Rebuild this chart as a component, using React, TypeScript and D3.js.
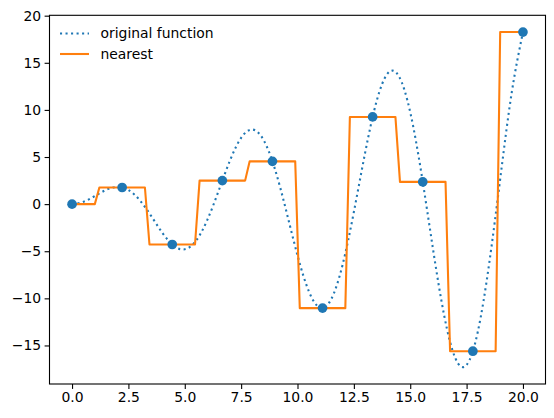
import * as d3 from 'd3';
import { useEffect, useRef } from 'react';

// dense curve (step 0.5)
const curveX = d3.range(0, 20.001, 0.5);
const curveY = [
  0, 0.24, 0.841, 1.496, 1.819, 1.496, 0.423, -1.228, -3.027, -4.399, -4.795,
  -3.88, -1.676, 1.398, 4.599, 7.035, 7.915, 6.787, 3.709, -0.714, -5.44,
  -9.237, -11.0, -10.068, -6.439, -0.829, 5.462, 10.851, 13.868, 13.556, 9.754,
  3.201, -4.607, -11.745, -16.344, -17.07, -13.518, -6.337, 2.848, 11.807, 18.259,
];

// sample points (blue markers)
const sampleX = [0, 2.222, 4.444, 6.667, 8.889, 11.111, 13.333, 15.556, 17.778, 20];
const sampleY = [0, 1.767, -4.286, 2.495, 4.54, -11.037, 9.253, 2.361, -15.609, 18.259];

const xTicks = [0, 2.5, 5, 7.5, 10, 12.5, 15, 17.5, 20];
const yTicks = [-15, -10, -5, 0, 5, 10, 15, 20];

const legendItems = [
  { label: 'original function', color: '#1f77b4', dash: '2.08,3.44' },
  { label: 'nearest', color: '#ff7f0e', dash: null },
];

// the step line was evaluated on a 100 point grid, so jumps span one grid cell
const gridStep = 20 / 99;

const App = () => {
  const ref = useRef<SVGSVGElement>(null);

  useEffect(() => {
    const width = 554;
    const height = 418;
    const margin = { top: 15.3, right: 8.5, bottom: 34, left: 49.5 };
    const font = 'DejaVu Sans, sans-serif';

    const x = d3
      .scaleLinear()
      .domain([-1, 21])
      .range([margin.left, width - margin.right]);

    const y = d3
      .scaleLinear()
      .domain([-19.09, 20.04])
      .range([height - margin.bottom, margin.top]);

    const svg = d3.select(ref.current);
    svg.selectAll('*').remove();

    svg.append('rect').attr('width', width).attr('height', height).attr('fill', 'white');

    const plot = svg.append('g');

    const line = d3
      .line<number>()
      .x((_, i) => x(curveX[i]))
      .y((d) => y(d))
      .curve(d3.curveNatural);

    plot
      .append('path')
      .datum(curveY)
      .attr('fill', 'none')
      .attr('stroke', '#1f77b4')
      .attr('stroke-width', 2.08)
      .attr('stroke-dasharray', '2.08,3.44')
      .attr('d', line);

    // each sample holds its value from the grid point after the previous midpoint
    // to the grid point before the next one
    const n = sampleX.length;
    const steps: [number, number][] = [];
    sampleY.forEach((v, i) => {
      const start =
        i === 0 ? sampleX[0] : Math.ceil((sampleX[i - 1] + sampleX[i]) / 2 / gridStep) * gridStep;
      const end =
        i === n - 1
          ? sampleX[n - 1]
          : Math.floor((sampleX[i] + sampleX[i + 1]) / 2 / gridStep) * gridStep;
      steps.push([start, v], [end, v]);
    });

    plot
      .append('path')
      .datum(steps)
      .attr('fill', 'none')
      .attr('stroke', '#ff7f0e')
      .attr('stroke-width', 2.08)
      .attr('stroke-linejoin', 'round')
      .attr(
        'd',
        d3
          .line<[number, number]>()
          .x((d) => x(d[0]))
          .y((d) => y(d[1])),
      );

    plot
      .selectAll('circle')
      .data(sampleY)
      .join('circle')
      .attr('cx', (_, i) => x(sampleX[i]))
      .attr('cy', (d) => y(d))
      .attr('r', 4.85)
      .attr('fill', '#1f77b4');

    const xAxis = (g) =>
      g
        .attr('transform', `translate(0,${height - margin.bottom})`)
        .call(
          d3
            .axisBottom(x)
            .tickValues(xTicks)
            .tickFormat(d3.format('.1f'))
            .tickSizeOuter(0)
            .tickSize(4.9)
            .tickPadding(3.5),
        )
        .call((g) => g.select('.domain').remove());

    const yAxis = (g) =>
      g
        .attr('transform', `translate(${margin.left},0)`)
        .call(d3.axisLeft(y).tickValues(yTicks).tickSizeOuter(0).tickSize(4.9).tickPadding(3.5))
        .call((g) => g.select('.domain').remove());

    for (const ax of [svg.append('g').call(xAxis), svg.append('g').call(yAxis)]) {
      ax.selectAll('text').attr('font-family', font).attr('font-size', 13.9).attr('fill', 'black');
      ax.selectAll('line').attr('stroke', 'black').attr('stroke-width', 1.1);
    }

    svg
      .append('rect')
      .attr('x', margin.left)
      .attr('y', margin.top)
      .attr('width', width - margin.left - margin.right)
      .attr('height', height - margin.top - margin.bottom)
      .attr('fill', 'none')
      .attr('stroke', 'black')
      .attr('stroke-width', 1.1);

    const legend = svg
      .append('g')
      .selectAll('g')
      .data(legendItems)
      .join('g')
      .attr('transform', (_, i) => `translate(60,${33.5 + i * 20.5})`);

    legend
      .append('line')
      .attr('x1', 0)
      .attr('x2', 29)
      .attr('stroke', (d) => d.color)
      .attr('stroke-width', 2.08)
      .attr('stroke-dasharray', (d) => d.dash);

    legend
      .append('text')
      .attr('x', 40.5)
      .attr('dy', '0.35em')
      .attr('font-family', font)
      .attr('font-size', 13.9)
      .text((d) => d.label);
  }, []);

  return (
    <svg
      ref={ref}
      width={554}
      height={418}
      style={{ position: 'absolute', left: 0, top: 0 }}
    />
  );
};

export default App;
